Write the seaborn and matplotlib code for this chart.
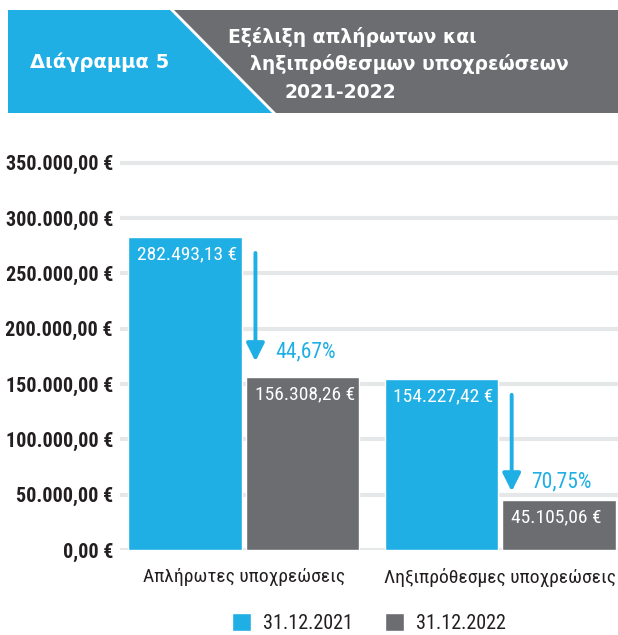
import numpy as np
import pandas as pd
import seaborn as sns
import matplotlib.pyplot as plt
from matplotlib.patches import Polygon

# data
categories = ["Απλήρωτες υποχρεώσεις", "Ληξιπρόθεσμες υποχρεώσεις"]
dates = ["31.12.2021", "31.12.2022"]
values_2021 = [282493.13, 154227.42]
values_2022 = [156308.26, 45105.06]
yticks = [0, 50000, 100000, 150000, 200000, 250000, 300000, 350000]

blue = "#20AFE4"
gray = "#6C6D71"
dark = "#231f20"

sns.set_theme(style="white")
plt.rcParams["font.family"] = ["Roboto Condensed", "DejaVu Sans"]


def euro(v):
    s = f"{v:,.2f}".replace(",", "X").replace(".", ",").replace("X", ".")
    return s + " €"


df = pd.DataFrame({
    "category": categories * 2,
    "date": [dates[0]] * 2 + [dates[1]] * 2,
    "value": values_2021 + values_2022,
})

fig = plt.figure(figsize=(6.18, 6.35), dpi=100)
ax = fig.add_axes([0.194, 0.134, 0.806, 0.627])

sns.barplot(data=df, x="category", y="value", hue="date", palette=[blue, gray],
            width=0.92, gap=0.04, saturation=1, ax=ax, legend=True)

ax.set_xlim(-0.484, 1.46)
ax.set_ylim(0, 360000)
ax.set_yticks(yticks)
ax.set_yticklabels([euro(v) for v in yticks], fontsize=14.5, fontweight="bold", color=dark)
ax.tick_params(axis="y", length=0, pad=5)
ax.tick_params(axis="x", length=0, pad=13, labelsize=14, labelcolor=dark)
ax.set_xlabel("")
ax.set_ylabel("")
ax.grid(axis="y", color="#E6E7E9", linewidth=3)
ax.set_axisbelow(True)
for s in ax.spines.values():
    s.set_visible(False)

# value labels inside bars
for cont in ax.containers:
    for bar in cont:
        h = bar.get_height()
        ax.annotate(euro(h), (bar.get_x(), h), xytext=(6, -6), textcoords="offset points",
                    ha="left", va="top", color="white", fontsize=14)

# arrows + percent decrease
for i in range(len(categories)):
    pct = (values_2021[i] - values_2022[i]) / values_2021[i] * 100
    x = i + 0.045
    tip = values_2022[i] + 0.05 * values_2021[i]
    ax.annotate("", xy=(x, tip), xytext=(x, values_2021[i] - 14000),
                arrowprops=dict(arrowstyle="-|>,head_width=0.45,head_length=0.9",
                                color=blue, lw=2.8, shrinkA=0, shrinkB=0))
    ax.annotate(f"{pct:.2f}%".replace(".", ","), (x, tip),
                xytext=(14, 7), textcoords="offset points", ha="left", va="center",
                color=blue, fontsize=15.5)

# legend
leg = ax.legend(loc="upper center", bbox_to_anchor=(0.5, -0.112), ncol=2, frameon=False,
                fontsize=14.5, handlelength=0.95, handleheight=1.0, columnspacing=1.6,
                handletextpad=0.6)
for t in leg.get_texts():
    t.set_color(dark)

# header banner
fig.patches.append(Polygon([[8, 625], [170, 625], [272, 522], [8, 522]], closed=True,
                           transform=None, facecolor=blue, edgecolor="none"))
fig.patches.append(Polygon([[174, 625], [618, 625], [618, 522], [276, 522]], closed=True,
                           transform=None, facecolor=gray, edgecolor="none"))
fig.text(30 / 618, 1 - 62 / 635, "Διάγραμμα 5", color="white", fontsize=14,
         fontweight="bold", family="DejaVu Sans", va="center", ha="left")
title_lines = ["Εξέλιξη απλήρωτων και", "ληξιπρόθεσμων υποχρεώσεων", "2021-2022"]
title_x = [228, 250, 285]
title_y = [37, 64, 92]
for line, tx, ty in zip(title_lines, title_x, title_y):
    fig.text(tx / 618, 1 - ty / 635, line, color="white", fontsize=13.5,
             fontweight="bold", family="DejaVu Sans", va="center", ha="left")

fig.savefig("out.png", dpi=100)
